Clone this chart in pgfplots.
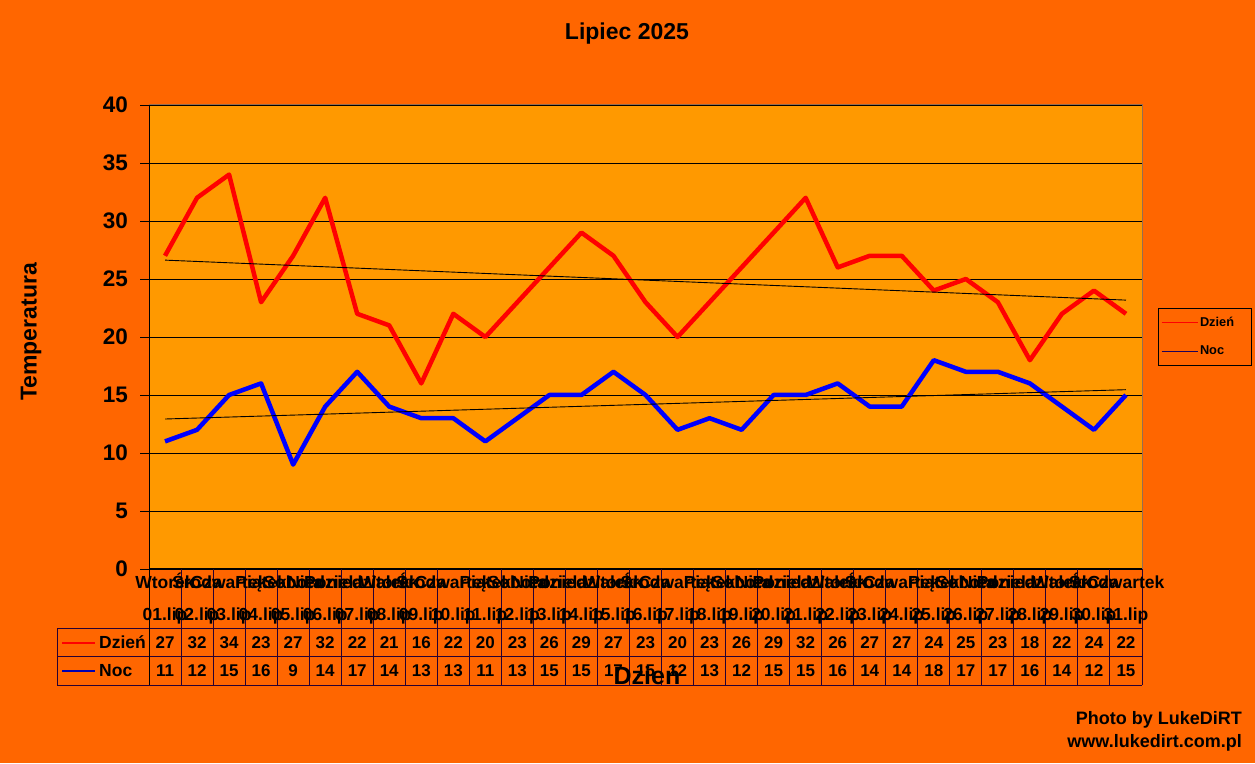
\documentclass[border=0pt]{standalone}
\usepackage{fontspec}
\setmainfont{Liberation Sans}
\usepackage{pgfplots}
\usepackage{pgfplotstable}
\pgfplotsset{compat=1.18}
\definecolor{chartbg}{RGB}{255,102,0}
\definecolor{plotbg}{RGB}{255,153,0}
\definecolor{frameline}{RGB}{150,110,80}
\definecolor{tabline}{RGB}{40,0,50}
\definecolor{legnoc}{RGB}{30,0,90}

\pgfplotstableread{
x dzien noc
1 27 11
2 32 12
3 34 15
4 23 16
5 27 9
6 32 14
7 22 17
8 21 14
9 16 13
10 22 13
11 20 11
12 23 13
13 26 15
14 29 15
15 27 17
16 23 15
17 20 12
18 23 13
19 26 12
20 29 15
21 32 15
22 26 16
23 27 14
24 27 14
25 24 18
26 25 17
27 23 17
28 18 16
29 22 14
30 24 12
31 22 15
}\datatable

\begin{document}
\begin{tikzpicture}[x=1pt,y=1pt]
\useasboundingbox (0,0) rectangle (1255,763);
\fill[chartbg] (0,0) rectangle (1255,763);
\begin{axis}[
  at={(149pt,194pt)}, anchor=south west,
  scale only axis, width=993pt, height=464pt,
  xmin=0.5, xmax=31.5, ymin=0, ymax=40,
  axis background/.style={fill=plotbg},
  axis x line*=bottom, axis y line*=left,
  axis line style={black, line width=1pt},
  xtick=\empty,
  ytick={0,5,...,40},
  ymajorgrids, grid style={black, line width=0.8pt},
  tick align=outside, major tick length=9pt,
  ytick style={black, line width=0.8pt},
  /pgf/number format/assume math mode=true,
  yticklabel style={font=\fontsize{22.5}{22.5}\selectfont\bfseries, inner sep=0pt, xshift=-12pt},
  clip=false,
  legend style={at={(1.016,0.5625)}, anchor=north west, draw=black, fill=chartbg,
    font=\fontsize{12.8}{14}\selectfont\bfseries, row sep=14pt, inner xsep=3pt, inner ysep=7pt},
  legend cell align=left,
  legend image code/.code={\draw[#1] (0pt,0pt) -- (36pt,0pt);},
]
\addplot[red, line width=4.5pt, line join=round, forget plot] table[x=x, y=dzien] {\datatable};
\addplot[blue, line width=4.5pt, line join=round, forget plot] table[x=x, y=noc] {\datatable};
% linear trend lines (least squares of the series)
\addplot[black, line width=0.9pt, forget plot] coordinates {(1,26.627) (31,23.179)};
\addplot[black, line width=0.9pt, forget plot] coordinates {(1,12.930) (31,15.458)};
\draw[frameline, line width=1pt] (rel axis cs:0,1) -- (rel axis cs:1,1) -- (rel axis cs:1,0);
\addlegendimage{red, line width=0.9pt}
\addlegendentry{\makebox[46pt][l]{Dzień}}
\addlegendimage{legnoc, line width=0.9pt}
\addlegendentry{\makebox[46pt][l]{Noc}}
\end{axis}

% data table grid
\foreach \k in {0,...,31} {
  \draw[tabline, line width=1pt] ({149+\k*32.0323},194) -- ({149+\k*32.0323},78);
}
\draw[tabline, line width=1pt] (57,134) -- (1142,134);
\draw[tabline, line width=1pt] (57,106) -- (1142,106);
\draw[tabline, line width=1pt] (57,78) -- (1142,78);
\draw[tabline, line width=1pt] (57,134) -- (57,78);
\draw[black, line width=1pt] (149,194) -- (149,78);

% table row headers
\draw[red, line width=2.5pt] (62,120) -- (95,120);
\node[anchor=base west, inner sep=0pt, font=\fontsize{17.5}{17.5}\selectfont\bfseries] at (99,114) {Dzień};
\draw[blue!70!black, line width=2.5pt] (62,92) -- (95,92);
\node[anchor=base west, inner sep=0pt, font=\fontsize{17.5}{17.5}\selectfont\bfseries] at (99,86) {Noc};

% category labels and values
\foreach \i/\day/\d/\n in {
 1/Wtorek/27/11, 2/Środa/32/12, 3/Czwartek/34/15, 4/Piątek/23/16, 5/Sobota/27/9,
 6/Niedziela/32/14, 7/Poniedziałek/22/17, 8/Wtorek/21/14, 9/Środa/16/13, 10/Czwartek/22/13,
 11/Piątek/20/11, 12/Sobota/23/13, 13/Niedziela/26/15, 14/Poniedziałek/29/15, 15/Wtorek/27/17,
 16/Środa/23/15, 17/Czwartek/20/12, 18/Piątek/23/13, 19/Sobota/26/12, 20/Niedziela/29/15,
 21/Poniedziałek/32/15, 22/Wtorek/26/16, 23/Środa/27/14, 24/Czwartek/27/14, 25/Piątek/24/18,
 26/Sobota/25/17, 27/Niedziela/23/17, 28/Poniedziałek/18/16, 29/Wtorek/22/14, 30/Środa/24/12,
 31/Czwartek/22/15} {
  \pgfmathsetmacro{\cx}{149+(\i-0.5)*32.0323}
  \pgfmathtruncatemacro{\dd}{\i}
  \node[anchor=base, inner sep=0pt, font=\fontsize{17.5}{17.5}\selectfont\bfseries] at (\cx,174) {\day};
  \node[anchor=base, inner sep=0pt, font=\fontsize{17.5}{17.5}\selectfont\bfseries] at (\cx,142) {\ifnum\dd<10 0\fi\dd.lip};
  \node[anchor=base, inner sep=0pt, font=\fontsize{17}{17}\selectfont\bfseries] at (\cx,114) {\d};
  \node[anchor=base, inner sep=0pt, font=\fontsize{17}{17}\selectfont\bfseries] at (\cx,86) {\n};
}

% titles
\node[font=\fontsize{23}{23}\selectfont\bfseries] at (627,729) {Lipiec 2025};
\node[rotate=90, font=\fontsize{23}{23}\selectfont\bfseries] at (31,431) {Temperatura};
\node[anchor=base, inner sep=0pt, font=\fontsize{25}{25}\selectfont\bfseries] at (647,78) {Dzień};
\node[anchor=base east, inner sep=0pt, font=\fontsize{18}{18}\selectfont\bfseries] at (1242,39) {Photo by LukeDiRT};
\node[anchor=base east, inner sep=0pt, font=\fontsize{18}{18}\selectfont\bfseries] at (1242,16) {www.lukedirt.com.pl};
\end{tikzpicture}
\end{document}
